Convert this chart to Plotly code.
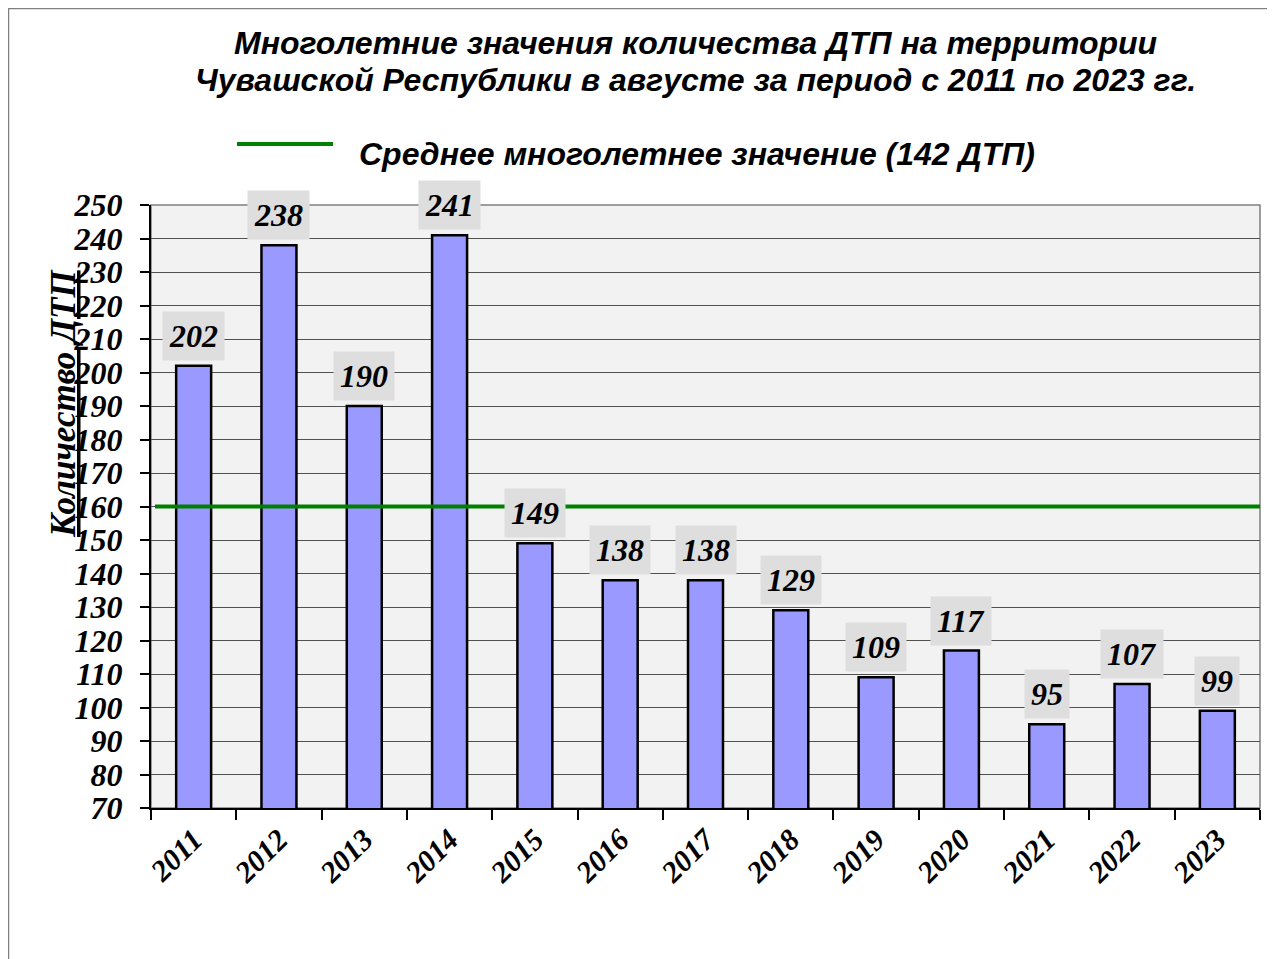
import plotly.graph_objects as go

years = ["2011", "2012", "2013", "2014", "2015", "2016", "2017",
         "2018", "2019", "2020", "2021", "2022", "2023"]
accidents = [202, 238, 190, 241, 149, 138, 138, 129, 109, 117, 95, 107, 99]
avg_line_value = 160
legend_text = "Среднее многолетнее значение (142 ДТП)"
title_lines = ["Многолетние значения количества ДТП на территории",
               "Чувашской Республики в августе за период с 2011 по 2023 гг."]
y_title = "Количество ДТП"

OFF = 8  # page body margin
W, H = 1267, 951
L, R, T, B = 143, 15, 197, 151
PW, PH = W - L - R, H - T - B


def px_x(p):
    """screen pixel x -> paper x"""
    return (p - OFF - L) / PW


def px_y(p):
    """screen pixel y -> paper y"""
    return 1 - (p - OFF - T) / PH


serif = "Liberation Serif, Times New Roman, serif"
sans = "Liberation Sans, Arial, sans-serif"

fig = go.Figure()
fig.add_trace(go.Bar(
    x=years, y=accidents, width=0.41,
    marker=dict(color="#9999ff", line=dict(color="black", width=2.5)),
    showlegend=False, hoverinfo="x+y",
))

annotations = []
for i, v in enumerate(accidents):
    annotations.append(dict(
        x=i, y=v, xref="x", yref="y", text=str(v), showarrow=False,
        yshift=30, font=dict(family=serif, size=32, color="black",
                             weight="bold", style="italic"),
        bgcolor="#dedede", borderpad=6,
    ))

annotations.append(dict(
    x=px_x(63), y=px_y(404), xref="paper", yref="paper", xanchor="center",
    yanchor="middle",
    text="<u>" + y_title + "</u>", textangle=-90, showarrow=False,
    font=dict(family=serif, size=35, color="black", weight="bold", style="italic"),
))
annotations.append(dict(
    x=px_x(357), y=px_y(154), xref="paper", yref="paper", xanchor="left",
    yanchor="middle", text=legend_text, showarrow=False,
    font=dict(family=sans, size=32, color="black", weight="bold", style="italic"),
))
for line, cy in zip(title_lines, [43, 80]):
    annotations.append(dict(
        x=px_x(695), y=px_y(cy), xref="paper", yref="paper", xanchor="center",
        yanchor="middle", text=line, showarrow=False,
        font=dict(family=sans, size=32, color="black", weight="bold",
                  style="italic"),
    ))

shapes = [
    dict(type="line", xref="paper", yref="y", x0=px_x(155), x1=1,
         y0=avg_line_value, y1=avg_line_value,
         line=dict(color="#008000", width=4), layer="above"),
    dict(type="line", xref="paper", yref="paper", x0=px_x(237), x1=px_x(333),
         y0=px_y(144), y1=px_y(144), line=dict(color="#008000", width=4)),
    dict(type="rect", xref="paper", yref="paper", x0=px_x(8.5), x1=px_x(1320),
         y0=px_y(1020), y1=px_y(8.5), line=dict(color="#808080", width=1.5)),
    dict(type="rect", xref="paper", yref="paper", x0=0, x1=1, y0=0, y1=1,
         line=dict(color="#808080", width=1.5), layer="below"),
]

fig.update_layout(
    width=W, height=H,
    margin=dict(l=L, r=R, t=T, b=B, autoexpand=False),
    paper_bgcolor="white", plot_bgcolor="#f2f2f2",
    xaxis=dict(
        type="category", range=[-0.5, len(years) - 0.5], tickangle=-45,
        ticks="outside", tickson="boundaries", automargin=False,
        ticklen=10, tickcolor="black", tickwidth=1.5, showline=True,
        linecolor="black", linewidth=2, showgrid=False,
        tickfont=dict(family=serif, size=30, color="black", weight="bold",
                      style="italic"),
    ),
    yaxis=dict(
        range=[70, 250], dtick=10, ticks="outside", ticklen=9, tickcolor="black",
        tickwidth=1.5, showline=True, linecolor="black", linewidth=2,
        showgrid=True, gridcolor="#505050", gridwidth=1.3, zeroline=False,
        ticklabelstandoff=11, automargin=False,
        tickfont=dict(family=serif, size=32, color="black", weight="bold",
                      style="italic"),
    ),
    annotations=annotations, shapes=shapes,
)

fig.write_html("out.html")
